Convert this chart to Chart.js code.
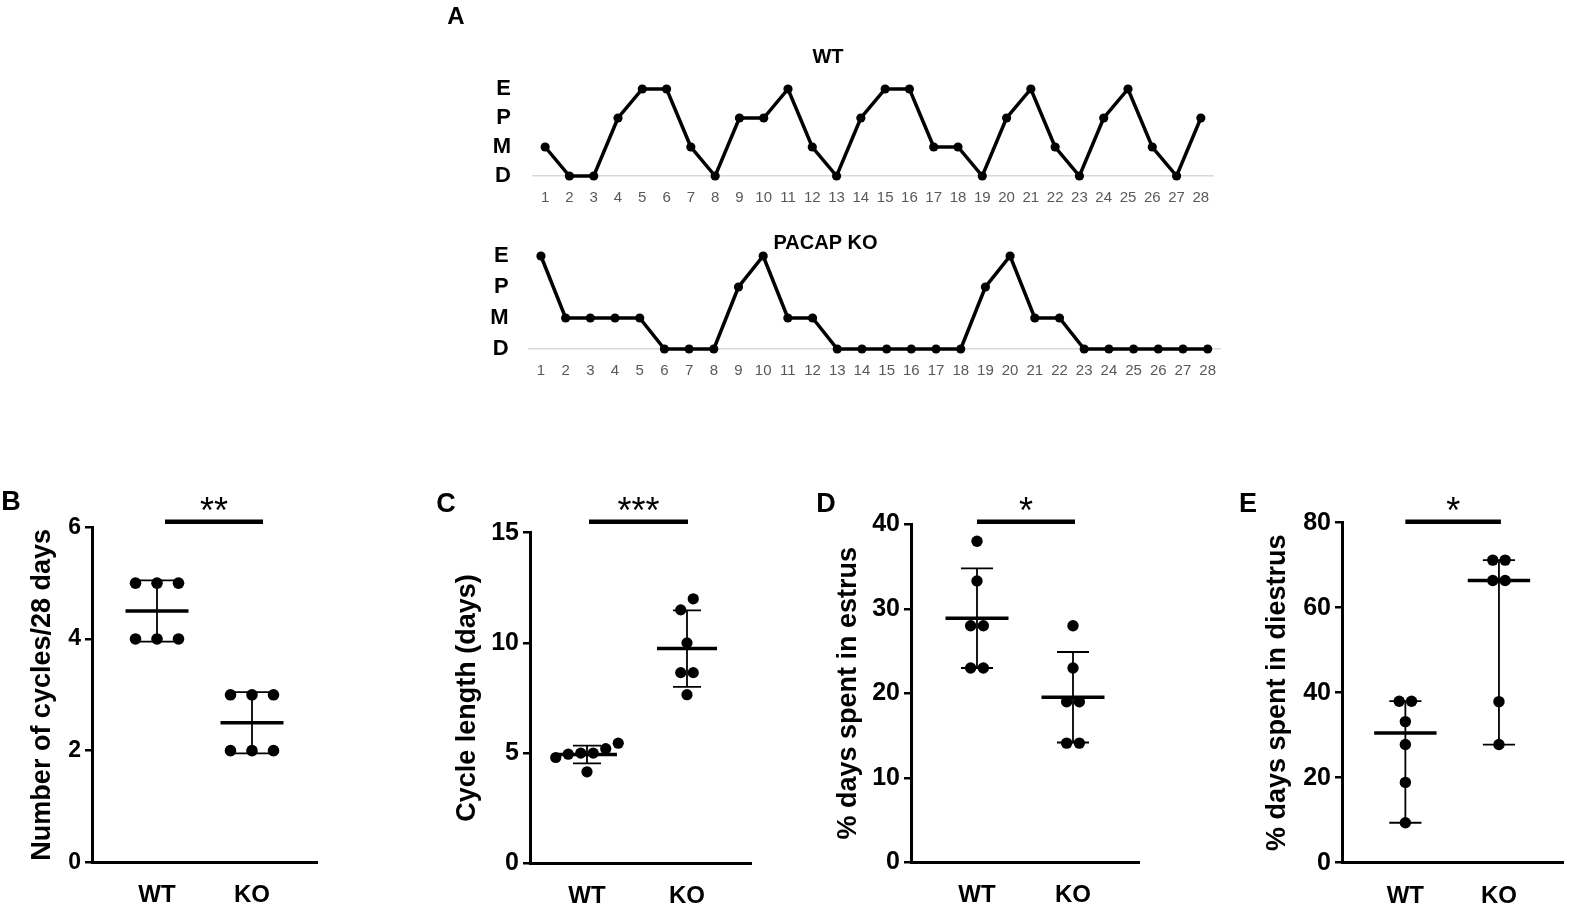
<!DOCTYPE html>
<html>
<head>
<meta charset="utf-8">
<script src="https://cdn.jsdelivr.net/npm/chart.js@4.4.1/dist/chart.umd.min.js"></script>
<style>
  body { margin: 0; background: #fff; }
  #wrap { position: relative; width: 1569px; height: 905px; overflow: hidden; background: #fff; }
  .box { position: absolute; }
</style>
</head>
<body>
<div id="wrap">
  <div class="box" style="left:443px;top:0;width:870px;height:215px"><canvas id="cycleWT"></canvas></div>
  <div class="box" style="left:431px;top:215px;width:870px;height:175px"><canvas id="cycleKO"></canvas></div>
  <div class="box" style="left:0;top:470px;width:340px;height:435px"><canvas id="panelB"></canvas></div>
  <div class="box" style="left:420px;top:470px;width:370px;height:435px"><canvas id="panelC"></canvas></div>
  <div class="box" style="left:800px;top:470px;width:370px;height:435px"><canvas id="panelD"></canvas></div>
  <div class="box" style="left:1180px;top:470px;width:389px;height:435px"><canvas id="panelE"></canvas></div>
</div>
<script>
// ---- data ----
var days = [1, 2, 3, 4, 5, 6, 7, 8, 9, 10, 11, 12, 13, 14, 15, 16, 17, 18, 19, 20, 21, 22, 23, 24, 25, 26, 27, 28];
var stages = ['D', 'M', 'P', 'E'];
var wtStages = ['M', 'D', 'D', 'P', 'E', 'E', 'M', 'D', 'P', 'P', 'E', 'M', 'D', 'P', 'E', 'E', 'M', 'M', 'D', 'P', 'E', 'M', 'D', 'P', 'E', 'M', 'D', 'P'];
var koStages = ['E', 'M', 'M', 'M', 'M', 'D', 'D', 'D', 'P', 'E', 'M', 'M', 'D', 'D', 'D', 'D', 'D', 'D', 'P', 'E', 'M', 'M', 'D', 'D', 'D', 'D', 'D', 'D'];

var groups = ['WT', 'KO'];
var cyclesWT = [5, 5, 5, 4, 4, 4];
var cyclesKO = [3, 3, 3, 2, 2, 2];
var lengthWT = [4.8, 4.95, 5.0, 5.0, 5.2, 5.45, 4.15];
var lengthKO = [12, 11.5, 10, 8.65, 8.65, 7.65];
var estrusWT = [38, 33.3, 28, 28, 23, 23];
var estrusKO = [28, 23, 19, 19, 14.1, 14.1];
var diestrusWT = [38, 38, 33.2, 27.8, 18.9, 9.4];
var diestrusKO = [71.2, 71.2, 66.4, 66.4, 37.9, 27.8];

var ticksB = [0, 2, 4, 6];
var ticksC = [0, 5, 10, 15];
var ticksD = [0, 10, 20, 30, 40];
var ticksE = [0, 20, 40, 60, 80];

var FONT = "'Liberation Sans', Arial, sans-serif";

// text drawn on top of a chart (panel letters, stars over the bar)
var panelText = {
    id: 'panelText',
    afterDraw: function (chart, args, opts) {
        var ctx = chart.ctx;
        ctx.save();
        ctx.fillStyle = '#000';
        (opts.items || []).forEach(function (t) {
            ctx.font = t.font;
            ctx.textAlign = 'center';
            ctx.textBaseline = 'middle';
            ctx.fillText(t.text, t.x, t.y);
        });
        if (opts.stars) {
            chart.data.datasets.forEach(function (ds, i) {
                if (ds.label !== 'sig') return;
                var pts = chart.getDatasetMeta(i).data;
                ctx.font = opts.starFont;
                ctx.textAlign = 'center';
                ctx.textBaseline = 'alphabetic';
                ctx.fillText(opts.stars, (pts[0].x + pts[1].x) / 2, pts[0].y + opts.starDy);
            });
        }
        ctx.restore();
    }
};
Chart.register(panelText);

function cycleChart(id, list, title, bx, items) {
    var pts = list.map(function (s, i) {
        return {x: days[i], y: stages.indexOf(s)};
    });
    return new Chart(document.getElementById(id), {
        type: 'scatter',
        data: {
            datasets: [{
                data: pts,
                showLine: true,
                borderColor: '#000',
                borderWidth: 3.5,
                backgroundColor: '#000',
                pointBackgroundColor: '#000',
                pointBorderWidth: 0,
                pointRadius: 4.6,
                clip: false
            }]
        },
        options: {
            responsive: true,
            maintainAspectRatio: false,
            animation: false,
            layout: {padding: {left: 0, top: 0, right: bx.padRight, bottom: 0}},
            plugins: {
                legend: {display: false},
                tooltip: {enabled: false},
                title: {
                    display: true, text: title, color: '#000',
                    font: {family: FONT, size: 20, weight: 'bold'},
                    padding: {top: bx.titleTop, bottom: bx.titleBottom}
                },
                panelText: {items: items}
            },
            scales: {
                x: {
                    type: 'linear', min: 0.5, max: 28.5,
                    afterBuildTicks: function (s) { s.ticks = days.map(function (d) { return {value: d}; }); },
                    afterFit: function (s) { s.height = bx.xH; },
                    ticks: {autoSkip: false, maxRotation: 0, padding: 13, color: '#595959',
                        font: {family: "'Liberation Sans Narrow', 'Liberation Sans', sans-serif", size: 15}},
                    grid: {display: false, drawTicks: false},
                    border: {display: true, color: '#d9d9d9', width: 1.5}
                },
                y: {
                    min: 0, max: 3,
                    afterBuildTicks: function (s) { s.ticks = stages.map(function (d, i) { return {value: i}; }); },
                    afterFit: function (s) { s.width = bx.yW; },
                    ticks: {autoSkip: false, padding: bx.yPad, color: '#000', font: {family: FONT, size: 22, weight: 'bold'},
                        callback: function (v) { return stages[v]; }},
                    grid: {display: false, drawTicks: false},
                    border: {display: false}
                }
            }
        }
    });
}

function meanSd(a) {
    var m = a.reduce(function (s, v) { return s + v; }, 0) / a.length;
    var sd = Math.sqrt(a.reduce(function (s, v) { return s + (v - m) * (v - m); }, 0) / (a.length - 1));
    return {c: m, lo: m - sd, hi: m + sd};
}

function medianRange(a) {
    var s = a.slice().sort(function (p, q) { return p - q; });
    var n = s.length;
    var med = n % 2 ? s[(n - 1) / 2] : (s[n / 2 - 1] + s[n / 2]) / 2;
    return {c: med, lo: s[0], hi: s[n - 1]};
}

// spread equal / close values sideways like a column scatter
function swarm(values, center, gap, pxX, pxY) {
    var order = values.map(function (v, i) { return i; }).sort(function (a, b) { return values[a] - values[b]; });
    var clusters = [], cur = [];
    order.forEach(function (i) {
        if (cur.length && (values[i] - values[cur[cur.length - 1]]) * pxY > gap) {
            clusters.push(cur);
            cur = [];
        }
        cur.push(i);
    });
    if (cur.length) clusters.push(cur);
    var pts = [];
    clusters.forEach(function (c) {
        c.forEach(function (i, k) {
            pts.push({x: center + (k - (c.length - 1) / 2) * gap / pxX, y: values[i]});
        });
    });
    return pts;
}

function dotChart(id, p) {
    var bx = p.box;
    var pxX = bx.cK - bx.cW;
    var xMin = 1 - (bx.cW - bx.axisX) / pxX;
    var xMax = 2 + (bx.rightX - bx.cK) / pxX;
    var yMax = p.ticks[p.ticks.length - 1];
    var pxY = (bx.bottomY - bx.topY) / yMax;
    var barY = yMax + (bx.topY - 521.7) / pxY;

    var whisk = [], centre = [];
    [p.wt, p.ko].forEach(function (vals, g) {
        var s = p.stat(vals);
        var c = g + 1;
        var cap = bx.cap / pxX, half = bx.half / pxX;
        whisk.push({x: c, y: s.lo}, {x: c, y: s.hi}, {x: c, y: null},
            {x: c - cap, y: s.hi}, {x: c + cap, y: s.hi}, {x: c, y: null},
            {x: c - cap, y: s.lo}, {x: c + cap, y: s.lo}, {x: c, y: null});
        centre.push({x: c - half, y: s.c}, {x: c + half, y: s.c}, {x: c, y: null});
    });

    var dot = {
        showLine: false, pointRadius: bx.r, pointBorderWidth: 0,
        pointBackgroundColor: '#000', backgroundColor: '#000', clip: false
    };
    var line = {showLine: true, pointRadius: 0, borderColor: '#000', spanGaps: false, clip: false};

    return new Chart(document.getElementById(id), {
        type: 'scatter',
        data: {
            datasets: [
                Object.assign({label: 'WT', data: swarm(p.wt, 1, bx.gap, pxX, pxY)}, dot),
                Object.assign({label: 'KO', data: swarm(p.ko, 2, bx.gap, pxX, pxY)}, dot),
                Object.assign({label: 'centre', data: centre, borderWidth: 3.5}, line),
                Object.assign({label: 'whisker', data: whisk, borderWidth: 1.8}, line),
                Object.assign({label: 'sig', borderWidth: 4.5, borderCapStyle: 'butt',
                    data: [{x: 1 + bx.sig[0] / pxX, y: barY}, {x: 2 + bx.sig[1] / pxX, y: barY}]}, line)
            ]
        },
        options: {
            responsive: true,
            maintainAspectRatio: false,
            animation: false,
            layout: {padding: {left: 0, top: bx.topY - bx.T, right: bx.L + bx.W - bx.rightX, bottom: 0}},
            plugins: {
                legend: {display: false},
                tooltip: {enabled: false},
                panelText: {
                    items: [{text: p.letter, x: bx.letter[0] - bx.L, y: bx.letter[1] - bx.T, font: 'bold 27px ' + FONT}],
                    stars: p.stars, starFont: '36px ' + FONT, starDy: 1
                }
            },
            scales: {
                x: {
                    type: 'linear', min: xMin, max: xMax,
                    afterBuildTicks: function (s) { s.ticks = groups.map(function (g, i) { return {value: i + 1}; }); },
                    afterFit: function (s) { s.height = bx.T + bx.H - bx.bottomY; },
                    ticks: {padding: 19, color: '#000', maxRotation: 0, font: {family: FONT, size: 24, weight: 'bold'},
                        callback: function (v) { return groups[v - 1]; }},
                    grid: {display: false, drawTicks: false},
                    border: {display: true, color: '#000', width: 3}
                },
                y: {
                    min: 0, max: yMax,
                    afterBuildTicks: function (s) { s.ticks = p.ticks.map(function (v) { return {value: v}; }); },
                    afterFit: function (s) { s.width = bx.axisX - bx.L; },
                    ticks: {autoSkip: false, padding: 4, color: '#000', font: {family: FONT, size: bx.tickSize, weight: 'bold'}},
                    grid: {display: true, drawOnChartArea: false, drawTicks: true, tickLength: 7, color: '#000', lineWidth: 2.5},
                    border: {display: true, color: '#000', width: 3},
                    title: {
                        display: true, text: p.title, color: '#000',
                        font: {family: FONT, size: 27, weight: 'bold'},
                        padding: {top: bx.titleX - bx.L - 16.2, bottom: 0}
                    }
                }
            }
        }
    });
}

cycleChart('cycleWT', wtStages, 'WT',
    {padRight: 100, titleTop: 45, titleBottom: 20, xH: 39, yW: 90, yPad: 22},
    [{text: 'A', x: 13, y: 17, font: 'bold 24px ' + FONT}]);
cycleChart('cycleKO', koStages, 'PACAP KO',
    {padRight: 81, titleTop: 16, titleBottom: 1, xH: 41, yW: 97.6, yPad: 20}, []);

dotChart('panelB', {
    wt: cyclesWT, ko: cyclesKO, stat: meanSd, ticks: ticksB,
    title: 'Number of cycles/28 days', stars: '**', letter: 'B',
    box: {L: 0, T: 470, W: 340, H: 435, axisX: 92, rightX: 317, topY: 527.3, bottomY: 862.3,
        cW: 157, cK: 252, titleX: 43, letter: [11, 503], r: 5.8, gap: 21.5, cap: 21.5, half: 31.5,
        sig: [8, 11], tickSize: 23}
});
dotChart('panelC', {
    wt: lengthWT, ko: lengthKO, stat: meanSd, ticks: ticksC,
    title: 'Cycle length (days)', stars: '***', letter: 'C',
    box: {L: 420, T: 470, W: 370, H: 435, axisX: 530, rightX: 751, topY: 532.7, bottomY: 863.3,
        cW: 587, cK: 687, titleX: 468, letter: [446, 505], r: 5.6, gap: 12.5, cap: 14, half: 30,
        sig: [2, 1], tickSize: 25}
});
dotChart('panelD', {
    wt: estrusWT, ko: estrusKO, stat: meanSd, ticks: ticksD,
    title: '% days spent in estrus', stars: '*', letter: 'D',
    box: {L: 800, T: 470, W: 370, H: 435, axisX: 911, rightX: 1139, topY: 524.3, bottomY: 862.3,
        cW: 977, cK: 1073, titleX: 849, letter: [826, 505], r: 5.7, gap: 12.7, cap: 16, half: 31.5,
        sig: [0, 2], tickSize: 25}
});
dotChart('panelE', {
    wt: diestrusWT, ko: diestrusKO, stat: medianRange, ticks: ticksE,
    title: '% days spent in diestrus', stars: '*', letter: 'E',
    box: {L: 1180, T: 470, W: 389, H: 435, axisX: 1342, rightX: 1569, topY: 522.7, bottomY: 862.7,
        cW: 1407, cK: 1503, titleX: 1278, letter: [1248, 505], r: 5.7, gap: 12.7, cap: 16.5, half: 32,
        sig: [0, 2], tickSize: 25}
});
</script>
</body>
</html>
